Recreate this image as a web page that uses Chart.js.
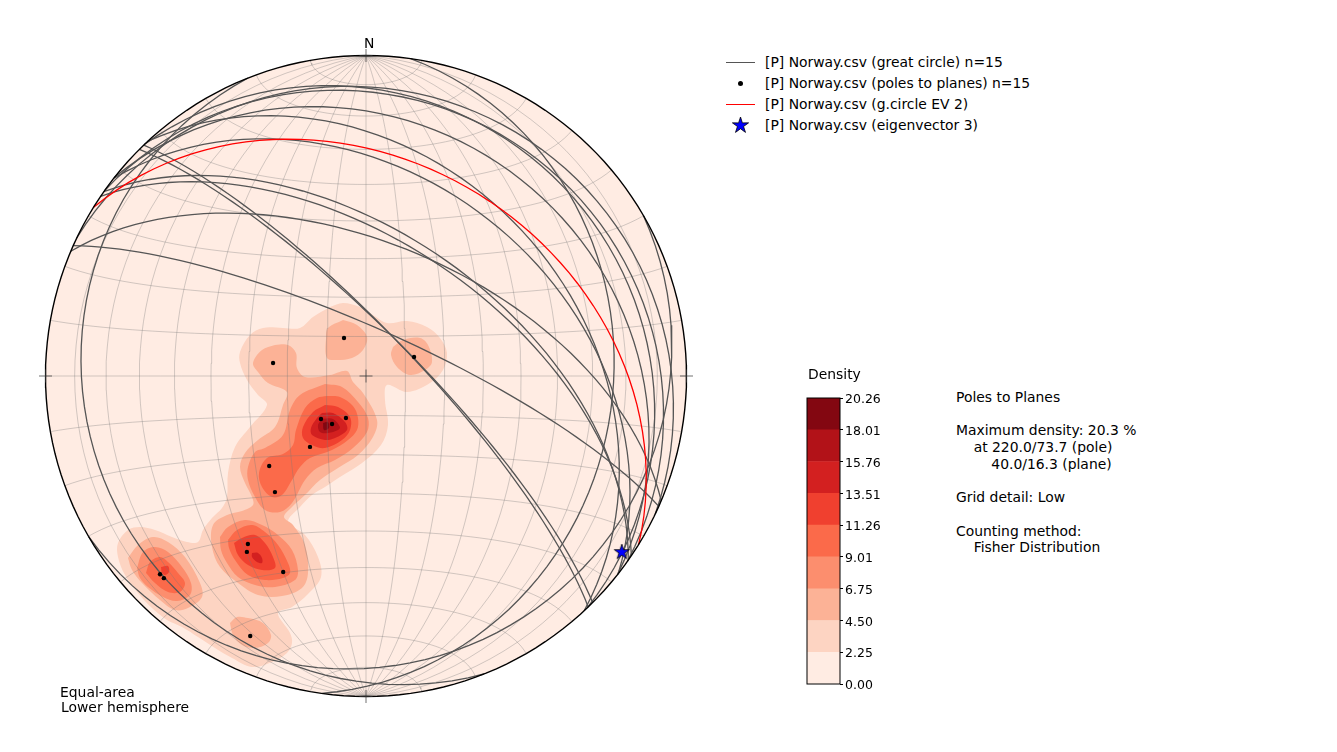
<!DOCTYPE html>
<html>
<head>
<meta charset="utf-8">
<title>Stereonet</title>
<script src="https://cdn.jsdelivr.net/npm/chart.js@4/dist/chart.umd.min.js"></script>
<style>
    html, body { margin: 0; background: #fff; }
    body { position: relative; width: 1337px; height: 752px; overflow: hidden; font-family: "DejaVu Sans", sans-serif; font-size: 13.9px; color: #000; }
    canvas { position: absolute; }
    .txt { position: absolute; white-space: pre; line-height: 16.7px; }
    .sample { position: absolute; }
</style>
</head>
<body>
<canvas id="netChart" width="720" height="752" style="left:0;top:0"></canvas>
<canvas id="barChart" width="120" height="330" style="left:790px;top:380px"></canvas>
<div id="legendBox"></div>
<div class="txt" style="left:364px;top:35px">N</div>
<div class="txt" style="left:60px;top:684px">Equal-area</div>
<div class="txt" style="left:61px;top:699px">Lower hemisphere</div>
<div class="txt" style="left:808px;top:366px">Density</div>
<div class="txt" style="left:956px;top:389px">Poles to Planes

Maximum density: 20.3 %
    at 220.0/73.7 (pole)
        40.0/16.3 (plane)

Grid detail: Low

Counting method:
    Fisher Distribution</div>

<script>
// Poles to planes (trend / plunge in degrees)
const poleTrends = [329.9, 68.4, 278.0, 226.3, 215.3, 205.5, 218.3, 227.1, 218.1, 215.1, 214.1, 202.9, 226.1, 225.0, 204.0];
const polePlunges = [78.9, 76.9, 66.1, 74.2, 75.1, 78.2, 67.0, 56.1, 52.0, 36.1, 34.1, 34.0, 11.8, 11.8, 12.2];

// Eigenvectors
const ev2Pole = [211.7, 56.3];
const ev3Vector = [124.4, 3.7];

// Colorbar
const densityTicks = [0, 2.25, 4.50, 6.75, 9.01, 11.26, 13.51, 15.76, 18.01, 20.26];
const bandColors = ['#ffece3', '#fdd4c2', '#fcb296', '#fc8e6e', '#fb6a4a', '#f0402f', '#d32020', '#b21218', '#830711'];

// Legend
const legendLabels = [
    '[P] Norway.csv (great circle) n=15',
    '[P] Norway.csv (poles to planes) n=15',
    '[P] Norway.csv (g.circle EV 2)',
    '[P] Norway.csv (eigenvector 3)'
];

// Net grid
const gridLons = [-80, -70, -60, -50, -40, -30, -20, -10, 0, 10, 20, 30, 40, 50, 60, 70, 80];
const gridLats = [-80, -70, -60, -50, -40, -30, -20, -10, 0, 10, 20, 30, 40, 50, 60, 70, 80];

// Density contours, [x, y] in net units (radius 320.5), one list per band
const contours225 = [
    [[-36,69],[-23,73],[-6,69],[7,61],[21,53],[41,55],[61,49],[74,38],[81,23],[77,6],[64,-7],[41,-16],[21,-9],[19,-24],[22,-49],[15,-69],[-4,-87],[-26,-101],[-41,-111],[-54,-119],[-66,-131],[-78,-146],[-61,-159],[-48,-181],[-45,-201],[-58,-218],[-74,-231],[-88,-237],[-76,-257],[-74,-267],[-79,-277],[-94,-286],[-114,-291],[-134,-282],[-151,-272],[-168,-261],[-184,-251],[-199,-244],[-214,-232],[-228,-217],[-241,-199],[-248,-181],[-248,-167],[-238,-154],[-226,-151],[-211,-154],[-194,-161],[-179,-166],[-168,-166],[-163,-154],[-154,-142],[-144,-132],[-139,-121],[-138,-97],[-131,-71],[-116,-51],[-99,-29],[-108,-19],[-119,-4],[-126,13],[-126,24],[-116,41],[-103,48],[-83,48],[-66,48],[-53,59]]
];
const contours450 = [
    [[-23,56],[-9,51],[1,39],[-3,26],[-14,18],[-29,16],[-39,18],[-40,38],[-38,48]],
    [[27,29],[37,36],[54,38],[62,31],[66,14],[59,6],[44,1],[31,9],[25,21]],
    [[-91,31],[-78,31],[-70,23],[-69,8],[-61,-1],[-36,1],[-19,5],[-13,-6],[-3,-17],[11,-44],[7,-61],[-8,-79],[-28,-92],[-46,-104],[-61,-119],[-74,-131],[-82,-141],[-73,-149],[-61,-169],[-58,-197],[-64,-212],[-84,-220],[-108,-219],[-128,-207],[-146,-191],[-154,-171],[-153,-149],[-139,-139],[-124,-135],[-113,-129],[-114,-121],[-121,-107],[-126,-91],[-121,-77],[-108,-64],[-91,-51],[-83,-29],[-79,-16],[-98,-7],[-108,4],[-113,13],[-104,26]],
    [[-238,-182],[-228,-169],[-213,-161],[-198,-166],[-181,-181],[-166,-207],[-164,-221],[-178,-232],[-191,-234],[-206,-224],[-224,-207],[-234,-194]],
    [[-136,-247],[-129,-241],[-118,-242],[-103,-247],[-95,-259],[-98,-267],[-111,-272],[-124,-269],[-133,-259]]
];
const contours675 = [
    [[-41,-8],[-24,-11],[-8,-26],[2,-42],[1,-56],[-13,-72],[-31,-84],[-49,-92],[-61,-104],[-74,-127],[-86,-136],[-101,-134],[-111,-121],[-118,-104],[-118,-91],[-111,-76],[-101,-72],[-83,-59],[-76,-34],[-66,-19]],
    [[-146,-161],[-138,-151],[-121,-144],[-104,-149],[-88,-159],[-74,-174],[-68,-194],[-71,-204],[-91,-211],[-111,-209],[-128,-201],[-139,-187],[-145,-174]],
    [[-229,-192],[-223,-176],[-211,-171],[-198,-176],[-184,-191],[-175,-207],[-176,-219],[-189,-225],[-203,-221],[-218,-211],[-226,-202]]
];
const contours901 = [
    [[-39,-20],[-26,-21],[-13,-30],[-8,-42],[-9,-54],[-18,-64],[-34,-74],[-56,-82],[-66,-91],[-74,-104],[-84,-119],[-94,-121],[-104,-111],[-107,-97],[-99,-82],[-83,-78],[-73,-69],[-70,-54],[-61,-32],[-49,-22]],
    [[-138,-164],[-129,-154],[-114,-149],[-101,-156],[-88,-169],[-78,-187],[-76,-197],[-83,-202],[-101,-204],[-118,-199],[-131,-184],[-137,-172]],
    [[-220,-197],[-216,-186],[-206,-181],[-198,-186],[-188,-197],[-181,-207],[-186,-216],[-198,-216],[-211,-207]]
];
const contours1126 = [
    [[-41,-29],[-28,-31],[-16,-41],[-16,-54],[-24,-64],[-41,-72],[-54,-69],[-63,-62],[-63,-51],[-53,-36]],
    [[-132,-167],[-124,-162],[-111,-159],[-101,-167],[-93,-181],[-91,-192],[-104,-194],[-118,-189],[-128,-179]],
    [[-205,-191],[-198,-190],[-197,-196],[-201,-199],[-204,-197]]
];
const contours1351 = [
    [[-44,-37],[-33,-37],[-21,-46],[-19,-54],[-31,-62],[-41,-64],[-54,-59],[-55,-52],[-49,-42]],
    [[-114,-177],[-108,-177],[-104,-182],[-104,-187],[-109,-186],[-114,-181]]
];
const contours1576 = [
    [[-44,-43],[-33,-43],[-26,-51],[-28,-54],[-38,-57],[-46,-56],[-48,-49]]
];
const contours1801 = [
    [[-43,-47],[-38,-46],[-37,-52],[-42,-54]]
];

const R = 320.5;
const toRad = Math.PI / 180;

// Lower hemisphere equal-area projection of a trend / plunge
function projectLine(trend, plunge) {
    const r = R * Math.sqrt(1 - Math.sin(plunge * toRad));
    return { x: r * Math.sin(trend * toRad), y: r * Math.cos(trend * toRad) };
}

// Points of the plane whose pole is trend / plunge
function planePoints(trend, plunge) {
    const dipDir = trend + 180;
    const dip = 90 - plunge;
    const st = (dipDir - 90) * toRad;
    const dd = dipDir * toRad;
    const pts = [];
    for (let t = 0; t <= 180; t += 3) {
        const c = Math.cos(t * toRad), s = Math.sin(t * toRad);
        const vx = Math.sin(st) * c + Math.sin(dd) * Math.cos(dip * toRad) * s;
        const vy = Math.cos(st) * c + Math.cos(dd) * Math.cos(dip * toRad) * s;
        const vz = Math.sin(dip * toRad) * s;
        const h = Math.hypot(vx, vy) || 1;
        const r = R * Math.sqrt(Math.max(0, 1 - vz));
        pts.push({ x: r * vx / h, y: r * vy / h });
    }
    return pts;
}

// Equatorial equal-area net position of a grid lon / lat
function netPoint(lon, lat) {
    const l = lon * toRad, p = lat * toRad;
    const k = R / Math.sqrt(1 + Math.cos(p) * Math.cos(l));
    return { x: k * Math.cos(p) * Math.sin(l), y: k * Math.sin(p) };
}

function meridian(lon) {
    const pts = [];
    for (let lat = -90; lat <= 90; lat += 3) pts.push(netPoint(lon, lat));
    return pts;
}

function parallel(lat) {
    const pts = [];
    for (let lon = -90; lon <= 90; lon += 3) pts.push(netPoint(lon, lat));
    return pts;
}

function rimPoints() {
    const pts = [];
    for (let a = 0; a <= 360; a += 2) pts.push({ x: R * Math.sin(a * toRad), y: R * Math.cos(a * toRad) });
    return pts;
}

function starCanvas(size) {
    const c = document.createElement('canvas');
    c.width = size;
    c.height = size;
    const g = c.getContext('2d');
    const mid = size / 2, outer = size / 2 - 1, inner = outer * 0.38;
    g.beginPath();
    for (let i = 0; i < 10; i++) {
        const rr = i % 2 ? inner : outer;
        const a = i * Math.PI / 5;
        g.lineTo(mid + rr * Math.sin(a), mid + 1 - rr * Math.cos(a));
    }
    g.closePath();
    g.fillStyle = '#0000ff';
    g.fill();
    g.strokeStyle = '#000';
    g.lineWidth = 0.8;
    g.stroke();
    return c;
}

function lineSet(points, color, width) {
    return { data: points, showLine: true, borderColor: color, borderWidth: width, pointRadius: 0, fill: false, clip: false };
}

function buildNetDatasets() {
    const sets = [];

    // Background band and contours, lowest density first
    sets.push({ data: rimPoints(), showLine: true, borderWidth: 0, pointRadius: 0, fill: 'shape', backgroundColor: bandColors[0], clip: false });
    const levels = [contours225, contours450, contours675, contours901, contours1126, contours1351, contours1576, contours1801];
    levels.forEach((polygons, i) => {
        polygons.forEach(poly => {
            const pts = poly.map(p => ({ x: p[0], y: p[1] }));
            pts.push(pts[0]);
            sets.push({ data: pts, showLine: true, borderWidth: 0, pointRadius: 0, tension: 0.35, fill: 'shape', backgroundColor: bandColors[i + 1], clip: false });
        });
    });

    // Grid
    const gridColor = 'rgba(120,120,120,0.34)';
    gridLons.forEach(lon => sets.push(lineSet(meridian(lon), gridColor, 1)));
    gridLats.forEach(lat => sets.push(lineSet(parallel(lat), gridColor, 1)));

    // Great circles
    poleTrends.forEach((trend, i) => sets.push(lineSet(planePoints(trend, polePlunges[i]), '#555555', 1.3)));
    sets.push(lineSet(planePoints(ev2Pole[0], ev2Pole[1]), '#ff0000', 1.3));

    // Poles and eigenvector
    sets.push({ data: poleTrends.map((trend, i) => projectLine(trend, polePlunges[i])), pointRadius: 2.2, pointBackgroundColor: '#000', pointBorderWidth: 0, clip: false });
    sets.push({ data: [projectLine(ev3Vector[0], ev3Vector[1])], pointStyle: starCanvas(18), clip: false });

    // Rim and centre / edge ticks
    sets.push(lineSet(rimPoints(), '#000', 1.4));
    sets.push({ data: [{ x: 0, y: 0 }, { x: -R, y: 0 }, { x: R, y: 0 }, { x: 0, y: R }, { x: 0, y: -R }], pointStyle: 'cross', pointRadius: 6.5, pointBorderColor: '#333', pointBorderWidth: 0.7, clip: false });

    // First dataset is painted last in Chart.js
    return sets.reverse();
}

function drawNet() {
    new Chart(document.getElementById('netChart'), {
        type: 'scatter',
        data: { datasets: buildNetDatasets() },
        options: {
            responsive: false,
            animation: false,
            layout: { padding: { left: 45.5, right: 33.5, top: 55.5, bottom: 55.5 } },
            plugins: { legend: { display: false }, tooltip: { enabled: false } },
            scales: {
                x: { type: 'linear', min: -R, max: R, display: false },
                y: { type: 'linear', min: -R, max: R, display: false }
            }
        }
    });
}

const frameBox = {
    id: 'frameBox',
    afterDraw(chart) {
        const a = chart.chartArea, g = chart.ctx;
        g.save();
        g.strokeStyle = '#000';
        g.lineWidth = 1;
        g.strokeRect(a.left, a.top, a.right - a.left, a.bottom - a.top);
        g.restore();
    }
};

function drawColorbar() {
    const bands = bandColors.map((color, i) => ({
        data: [densityTicks[i + 1] - densityTicks[i]],
        backgroundColor: color,
        borderWidth: 0,
        barPercentage: 1,
        categoryPercentage: 1,
        stack: 'density'
    }));
    new Chart(document.getElementById('barChart'), {
        type: 'bar',
        data: { labels: ['Density'], datasets: bands },
        options: {
            responsive: false,
            animation: false,
            layout: { padding: { left: 17, right: 0, top: 18, bottom: 26 } },
            plugins: { legend: { display: false }, tooltip: { enabled: false } },
            scales: {
                x: { stacked: true, display: false },
                y: {
                    stacked: true,
                    position: 'right',
                    min: 0,
                    max: 20.26,
                    afterBuildTicks(axis) { axis.ticks = densityTicks.map(v => ({ value: v })); },
                    afterFit(axis) { axis.width = 70; },
                    border: { display: false },
                    grid: { drawOnChartArea: false, color: '#000', tickLength: 3, tickWidth: 1 },
                    ticks: {
                        autoSkip: false,
                        maxRotation: 0,
                        padding: 2,
                        labelOffset: 2,
                        color: '#000',
                        font: { family: '"DejaVu Sans"', size: 12.5 },
                        callback: v => v.toFixed(2)
                    }
                }
            }
        },
        plugins: [frameBox]
    });
}

function addLegend() {
    const box = document.getElementById('legendBox');
    const rowY = [62, 83, 104, 125];
    legendLabels.forEach((label, i) => {
        const t = document.createElement('div');
        t.className = 'txt';
        t.style.left = '765px';
        t.style.top = (rowY[i] - 8.5) + 'px';
        t.textContent = label;
        box.appendChild(t);
    });
    const line = (y, color) => {
        const d = document.createElement('div');
        d.className = 'sample';
        d.style.cssText = `left:726px;top:${y}px;width:29px;height:1px;background:${color}`;
        box.appendChild(d);
    };
    line(rowY[0], '#555555');
    line(rowY[2], '#ff0000');
    const dot = document.createElement('div');
    dot.className = 'sample';
    dot.style.cssText = `left:738px;top:${rowY[1] - 2}px;width:5px;height:5px;border-radius:50%;background:#000`;
    box.appendChild(dot);
    const star = starCanvas(19);
    star.style.left = '731px';
    star.style.top = (rowY[3] - 10) + 'px';
    box.appendChild(star);
}

window.onload = function() {
    drawNet();
    drawColorbar();
    addLegend();
};
</script>
</body>
</html>
